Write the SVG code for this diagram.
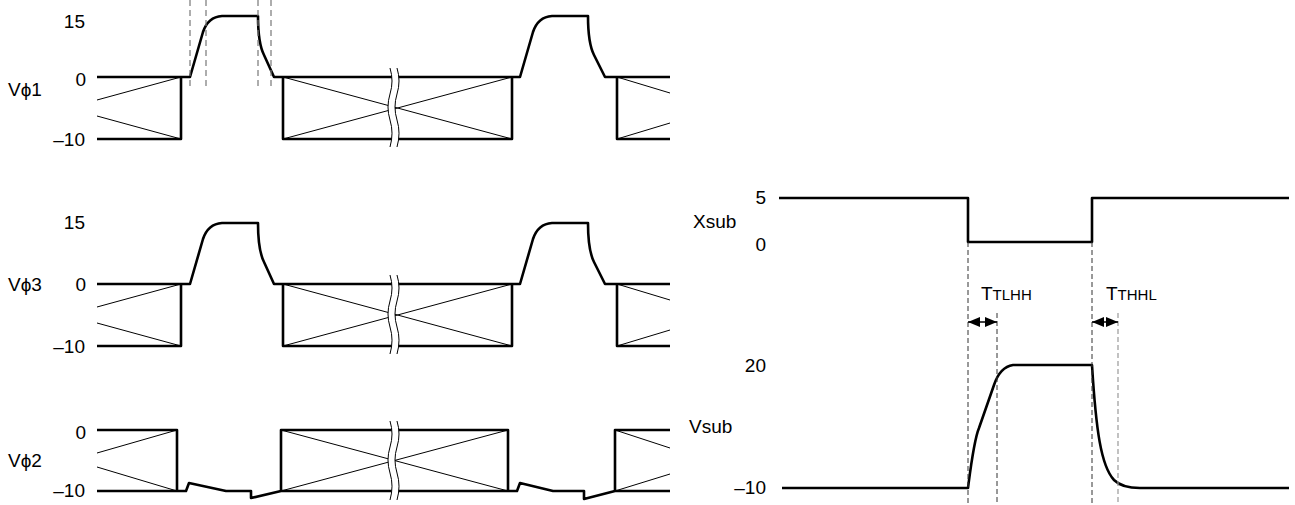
<svg xmlns="http://www.w3.org/2000/svg" width="1295" height="505" viewBox="0 0 1295 505">
<style>
text{font-family:"Liberation Sans",Arial,sans-serif;font-size:19px;fill:#000}
.r{text-anchor:end}
.w{fill:none;stroke:#000;stroke-width:2.6;stroke-linejoin:round}
.t{fill:none;stroke:#000;stroke-width:1}
.brk{fill:none;stroke:#fff;stroke-width:7}
.bl{fill:none;stroke:#000;stroke-width:1}
.d{fill:none;stroke:#777;stroke-width:1.2;stroke-dasharray:6,4}
.dk{fill:none;stroke:#333;stroke-width:1;stroke-dasharray:5,3}
.dg{fill:none;stroke:#999;stroke-width:1.2;stroke-dasharray:5,3}
.a{fill:none;stroke:#000;stroke-width:1.5}
.s{font-size:15px}
</style>
<defs>
<marker id="ah" viewBox="0 0 12 10" refX="12" refY="5" markerWidth="12" markerHeight="10" markerUnits="userSpaceOnUse" orient="auto-start-reverse">
<path d="M0,0 L12,5 L0,10 Z" fill="#000"/>
</marker>
<g id="row">
<path class="t" d="M181,77 L97,100 M181,139 L97,116 M283,77 L512,139 M283,139 L512,77 M617,77 L670,93 M617,139 L670,123"/>
<path class="w" d="M97,77 H190 L203,32 Q208,17 222,16 H258 C258,36 260,47 264,55 L274,77 H520 L533,32 Q538,17 552,16 H588 C588,36 590,47 594,55 L605,77 H670"/>
<path class="w" d="M97,139 H181 V77 M283,77 V139 H512 V77 M617,77 V139 H670"/>
<path class="brk" d="M393.5,68 q4,13 0,26 t0,26 t0,27"/>
<path class="bl" d="M390,68 q4,13 0,26 t0,26 t0,27 M397,68 q4,13 0,26 t0,26 t0,27"/>
</g>
</defs>
<g id="vphi1">
<use href="#row"/>
<text class="r" x="85" y="28">15</text>
<text class="r" x="86" y="86">0</text>
<text class="r" x="85" y="146">–10</text>
<text x="8" y="96">Vϕ1</text>
</g>
<g id="vphi3">
<use href="#row" transform="translate(0,207)"/>
<text class="r" x="85" y="229">15</text>
<text class="r" x="86" y="291">0</text>
<text class="r" x="85" y="353">–10</text>
<text x="8" y="291">Vϕ3</text>
</g>
<g id="vphi2">
<path class="t" d="M177,430 L97,453 M177,491 L97,467 M281,430 L508,491 M281,491 L508,430 M615,430 L670,448 M615,491 L670,474"/>
<path class="w" d="M97,430 H177 V491 M281,491 V430 H508 V491 M615,491 V430 H670"/>
<path class="w" d="M97,491 H186 L189,483 L226,491 H251 V498 L281,491 H517 L520,483 L553,491 H584 V499 L615,491 H670"/>
<path class="brk" d="M393.5,421 q4,13 0,26 t0,26 t0,27"/>
<path class="bl" d="M390,421 q4,13 0,26 t0,26 t0,27 M397,421 q4,13 0,26 t0,26 t0,27"/>
<text class="r" x="86" y="439">0</text>
<text class="r" x="85" y="497">–10</text>
<text x="8" y="467">Vϕ2</text>
</g>
<g id="guides-left">
<path class="d" d="M190,0 V90 M206,0 V90 M258,0 V90 M271,0 V90"/>
</g>
<g id="xsub">
<path class="w" d="M779,198 H968 V242 H1092 V198 H1289"/>
<text class="r" x="766" y="204">5</text>
<text class="r" x="766" y="251">0</text>
<text x="693" y="228">Xsub</text>
</g>
<g id="vsub">
<path class="w" d="M782,488 H968 C971,465 974,440 979,428 L994,385 Q1000,367 1013,365 H1092 C1096,430 1101,466 1114,480 Q1122,488 1140,488 H1289"/>
<text class="r" x="766" y="372">20</text>
<text class="r" x="766" y="494">–10</text>
<text x="689" y="433">Vsub</text>
</g>
<g id="connectors">
<path class="dk" d="M968,242 V505 M997,313 V505 M1092,242 V505"/>
<path class="dg" d="M1118,313 V505"/>
<path class="a" d="M968,322 H997" marker-start="url(#ah)" marker-end="url(#ah)"/>
<path class="a" d="M1092,322 H1118" marker-start="url(#ah)" marker-end="url(#ah)"/>
</g>
<g id="labels">
<text x="981" y="300">T<tspan class="s">TLHH</tspan></text>
<text x="1106" y="300">T<tspan class="s">THHL</tspan></text>
</g>
</svg>
